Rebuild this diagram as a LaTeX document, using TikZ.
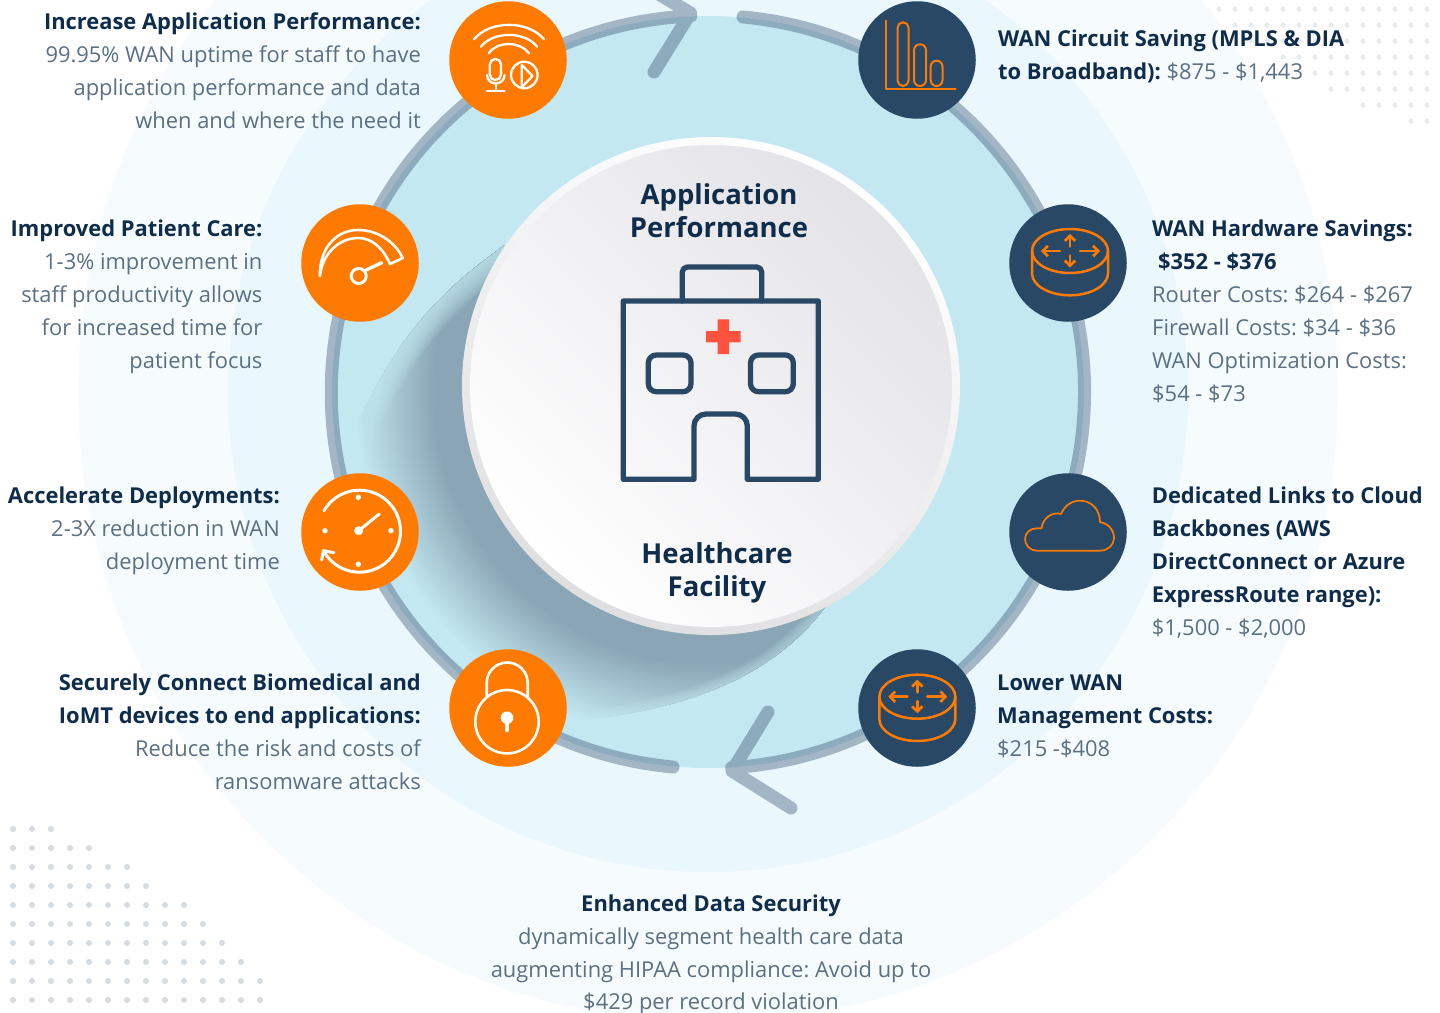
\documentclass[tikz,border=0pt]{standalone}
\usepackage{fontspec}
\setmainfont{Open Sans}
\frenchspacing
\usetikzlibrary{arrows.meta}
\definecolor{Outer}{HTML}{F6FBFE}
\definecolor{Mid}{HTML}{EAF7FC}
\definecolor{Pale}{HTML}{C3E8F1}
\definecolor{RingC}{HTML}{374E70}
\definecolor{SD}{HTML}{8AA5B5}
\definecolor{Org}{HTML}{FF7A00}
\definecolor{Navy}{HTML}{284865}
\definecolor{Head}{HTML}{0F2D4A}
\definecolor{Body}{HTML}{5B7083}
\definecolor{DotA}{HTML}{D5DCE2}
\definecolor{DotB}{HTML}{E6EBEF}
\definecolor{RimC}{HTML}{DFDFE1}
\definecolor{Disc}{HTML}{E3E3E8}
\definecolor{DiscM}{HTML}{F7F7F9}
\definecolor{Crs}{HTML}{FF5340}
\newcommand\hdg[1]{{\bfseries\color{Head}#1}}
\tikzset{
  badgeO/.style={circle,fill=Org,minimum size=117.5pt,inner sep=0pt},
  badgeN/.style={circle,fill=Navy,minimum size=117.5pt,inner sep=0pt},
  wl/.style={draw=white,line width=2.3pt,line cap=round,line join=round},
  ol/.style={draw=Org,line width=2pt,line cap=round,line join=round},
  ring/.style={draw=RingC,draw opacity=.39,line width=13pt,line cap=round,line join=round},
  blk/.style={inner sep=0pt,text=Body,font=\fontsize{21.9}{32.85}\selectfont,execute at begin node=\strut},
  blkR/.style={blk,anchor=north east,align=right},
  blkL/.style={blk,anchor=north west,align=left},
  blkC/.style={blk,anchor=north,align=center},
  ctitle/.style={inner sep=0pt,anchor=north,align=center,text=Head,font=\fontsize{27.5}{33}\selectfont\bfseries,execute at begin node=\strut},
  hosp/.style={draw=Navy,line width=5.3pt,line join=round,line cap=round},
  rarrow/.style={ol,line width=2.7pt,-{Straight Barb[length=5pt,width=10.5pt]}},
  softedge/.style={draw=Pale,draw opacity=.12,line cap=butt}
}
\newcommand\routerIcon[2]{%
  \begin{scope}[shift={(#1,#2)}]
    \draw[ol,line width=2.5pt] (0,0) ellipse [x radius=38,y radius=22];
    \draw[ol,line width=2.5pt] (-38,0) -- (-38,22.3) arc[start angle=180,end angle=0,x radius=38,y radius=22] -- (38,0);
    \draw[rarrow] (-10,0) -- (-29,0);
    \draw[rarrow] (10,0) -- (30,0);
    \draw[rarrow] (0,-4.5) -- (0,-17);
    \draw[rarrow] (0,4.5) -- (0,16.5);
  \end{scope}}
\begin{document}
\begin{tikzpicture}[x=1pt,y=-1pt]
\useasboundingbox (0,0) rectangle (1440,1012);
\begin{scope}
\clip (0,0) rectangle (1440,1012);
\fill[white] (0,0) rectangle (1440,1012);
% dot fields
\foreach \n [count=\r from 0] in {3,5,7,8,10,11,12,13,14,14}
  \foreach \k in {1,...,\n}
    \fill[DotA] ({13+19*(\k-1)},{829+19*\r}) circle (3);
\foreach \n/\yy in {13/9,12/25,11/41,9/57,7/73,6/89,4/105,1/121}
  \foreach \k in {0,...,\n}
    \fill[DotB] ({1427-16*\k},\yy) circle (2.6);
% background discs
\fill[Outer] (708,392) circle (630);
\fill[Mid] (708,392) circle (480);
\fill[Pale] (708,392) circle (376);
% long shadow: concentric steps fading outwards, edges softened
\begin{scope}
  \clip (708,392) circle (376);
  \clip (711,385) -- (505,245) .. controls (440,292) and (395,335) .. (345,450) -- (340,640) -- (480,740) -- (563,722) .. controls (680,712) and (770,680) .. (825,607) -- cycle;
  \foreach \i in {0,...,40} {
    \pgfmathtruncatemacro\pp{round(100*\i/40)}
    \fill[SD!\pp!Pale] (706,392) circle ({352-2*\i});
  }
  \foreach \w in {44,40,36,32,28,24,20,16,12,8,4}
    \draw[softedge,line width=\w pt] (505,245) .. controls (440,292) and (395,335) .. (345,450);
  \foreach \w in {20,16,12,8,4}
    \draw[softedge,line width=\w pt] (563,722) .. controls (680,712) and (770,680) .. (825,607);
\end{scope}
% ring with arrowheads
\coordinate (tipT) at (690.5,13);
\coordinate (armTa) at (654,72);
\coordinate (armTb) at (630,-23);
\coordinate (tipB) at (732,771);
\coordinate (armBa) at (768,712);
\coordinate (armBb) at (791,808);
\draw[ring] (armTa) -- (tipT) -- (armTb)
  (673,767) arc[start angle=95.3,end angle=267.4,radius=376.5]
  (armBa) -- (tipB) -- (armBb)
  (743,17) arc[start angle=-84.67,end angle=86.4,radius=376.5];
% central disc
\shade[top color=white,bottom color=RimC,shading angle=-25] (711,386) circle (249);
\shade[top color=Disc,middle color=DiscM,bottom color=white,shading angle=-45] (711,386) circle (241);
% hospital
\draw[hosp] (694,479.3) -- (623.3,479.3) -- (623.3,301) -- (818.3,301) -- (818.3,479.3) -- (747.3,479.3) -- (747.3,426) arc[start angle=0,end angle=-90,radius=12] -- (706,414) arc[start angle=-90,end angle=-180,radius=12] -- cycle;
\draw[hosp] (682.3,301) -- (682.3,272) arc[start angle=180,end angle=270,radius=5] -- (756.7,267) arc[start angle=-90,end angle=0,radius=5] -- (761.7,301);
\draw[hosp,rounded corners=8pt] (648.3,355) rectangle (691,391.7);
\draw[hosp,rounded corners=8pt] (750.5,355) rectangle (793.3,391.7);
\fill[Crs] (717.6,319.4) rectangle (729,354) (706,331) rectangle (740.6,342.4);
% central texts
\node[ctitle] (title1) at (719,183) {Application\\Performance};
\node[ctitle] (title2) at (717,542) {Healthcare\\Facility};
% badges
\node[badgeO] (b1) at (508,60) {};
\node[badgeO] (b2) at (360,263) {};
\node[badgeO] (b3) at (360,532) {};
\node[badgeO] (b4) at (508,708) {};
\node[badgeN] (b5) at (917,60) {};
\node[badgeN] (b6) at (1068,263) {};
\node[badgeN] (b7) at (1068,532) {};
\node[badgeN] (b8) at (917,708) {};
% icon 1: broadcast
\draw[wl] (474,39.3) .. controls (490,20) and (528,20) .. (544,39.3);
\draw[wl] (481,46.7) .. controls (493,31) and (525,31) .. (537,46.7);
\draw[wl] (488.6,53.3) .. controls (497,41) and (520,41) .. (529,53.3);
\draw[wl] (489.8,64.5) arc[start angle=180,end angle=360,radius=5.6] -- (501,74.5) arc[start angle=0,end angle=180,radius=5.6] -- cycle;
\draw[wl] (487,75) .. controls (487,80) and (491,83.5) .. (495.8,83.5) .. controls (500.5,83.5) and (504.6,80) .. (504.6,75);
\draw[wl] (495.8,83.5) -- (495.8,91) (487,91) -- (504.6,91);
\draw[wl] (524.3,75) circle (13.3);
\draw[wl] (521.8,65) -- (532.5,76) -- (521.8,87.3) -- cycle;
% icon 2: gauge
\draw[wl,line width=2.6pt] (320,276) .. controls (319,250) and (335,230) .. (358,230) .. controls (378,230) and (395,242) .. (402.7,258) -- (390,264) .. controls (383,248) and (372,238) .. (358,238) .. controls (338,238) and (322,255) .. (320,276);
\draw[wl,line width=3pt] (358.7,276) circle (7.5);
\draw[wl,line width=3.4pt] (366,270) -- (381.7,262.7);
% icon 3: stopwatch
\draw[wl,line width=3pt] (324,510.7) arc[start angle=-150,end angle=150,radius=41];
\draw[wl,line width=3pt] (321.7,560) -- (323.3,550.7) -- (334,552.7);
\fill[white] (358.3,497.3) circle (2.7) (358.3,564.3) circle (2.7) (325,530.7) circle (2.7) (391,530.7) circle (2.7) (358.7,530.7) circle (4.5);
\draw[wl,line width=3pt] (358.7,530.7) -- (379.3,514);
% icon 4: padlock
\draw[wl,line width=2.6pt] (507,721.7) circle (31.7);
\draw[wl,line width=2.6pt] (486.7,697) -- (486.7,683) arc[start angle=180,end angle=360,radius=20.5] -- (527.7,697);
\fill[white] (507,717.7) circle (6.3);
\draw[white,line width=4.5pt,line cap=round] (507,718) -- (507,730);
% icon 5: bars
\draw[ol,line width=2pt] (886.4,20.7) -- (886.4,89.3) -- (955.7,89.3);
\draw[ol,line width=2pt,rounded corners=5.5pt] (897.5,22.3) rectangle (908.6,86);
\draw[ol,line width=2pt,rounded corners=5.9pt] (914,44.3) rectangle (926,86);
\draw[ol,line width=2pt,rounded corners=5.8pt] (930.7,60.7) rectangle (942.5,86);
% icon 6, 8: routers
\routerIcon{1070}{251}
\routerIcon{917.3}{696.7}
% icon 7: cloud
\draw[ol,line width=1.7pt] (1036.7,550.7) .. controls (1030,550.7) and (1025,545) .. (1025,539) .. controls (1025,533) and (1030,528.3) .. (1036.7,528.3) -- (1041.7,528.3) .. controls (1042,519) and (1052,511) .. (1061,514) .. controls (1065,505) and (1072,500.7) .. (1080,500.7) .. controls (1092,500.7) and (1100,510) .. (1100,522.3) .. controls (1108,523) and (1114,530) .. (1114,538) .. controls (1114,545) and (1108,550.7) .. (1100,550.7) -- cycle;
% side texts
\node[blkR] (t1) at (421,13) {\hdg{Increase Application Performance:}\\99.95\% WAN uptime for staff to have\\application performance and data\\when and where the need it};
\node[blkR] (t2) at (262.6,220) {\hdg{Improved Patient Care:}\\1-3\% improvement in\\staff productivity allows\\for increased time for\\patient focus};
\node[blkR] (t3) at (280,487) {\hdg{Accelerate Deployments:}\\2-3X reduction in WAN\\deployment time};
\node[blkR] (t4) at (421,674) {\hdg{Securely Connect Biomedical and}\\\hdg{IoMT devices to end applications:}\\Reduce the risk and costs of\\ransomware attacks};
\node[blkL] (t5) at (998,30) {\hdg{WAN Circuit Saving (MPLS \& DIA}\\\hdg{to Broadband):} \$875 - \$1,443};
\node[blkL] (t6) at (1152,220) {\hdg{WAN Hardware Savings:}\\\hspace*{6pt}\hdg{\$352 - \$376}\\Router Costs: \$264 - \$267\\Firewall Costs: \$34 - \$36\\WAN Optimization Costs:\\\$54 - \$73};
\node[blkL] (t7) at (1151.6,487) {\hdg{Dedicated Links to Cloud}\\\hdg{Backbones (AWS}\\\hdg{DirectConnect or Azure}\\\hdg{ExpressRoute range):}\\\$1,500 - \$2,000};
\node[blkL] (t8) at (997,674.5) {\hdg{Lower WAN}\\\hdg{Management Costs:}\\\$215 -\$408};
\node[blkC] (t9) at (711,894.5) {\hdg{Enhanced Data Security}\\dynamically segment health care data\\augmenting HIPAA compliance: Avoid up to\\\$429 per record violation};
\end{scope}
\end{tikzpicture}
\end{document}
